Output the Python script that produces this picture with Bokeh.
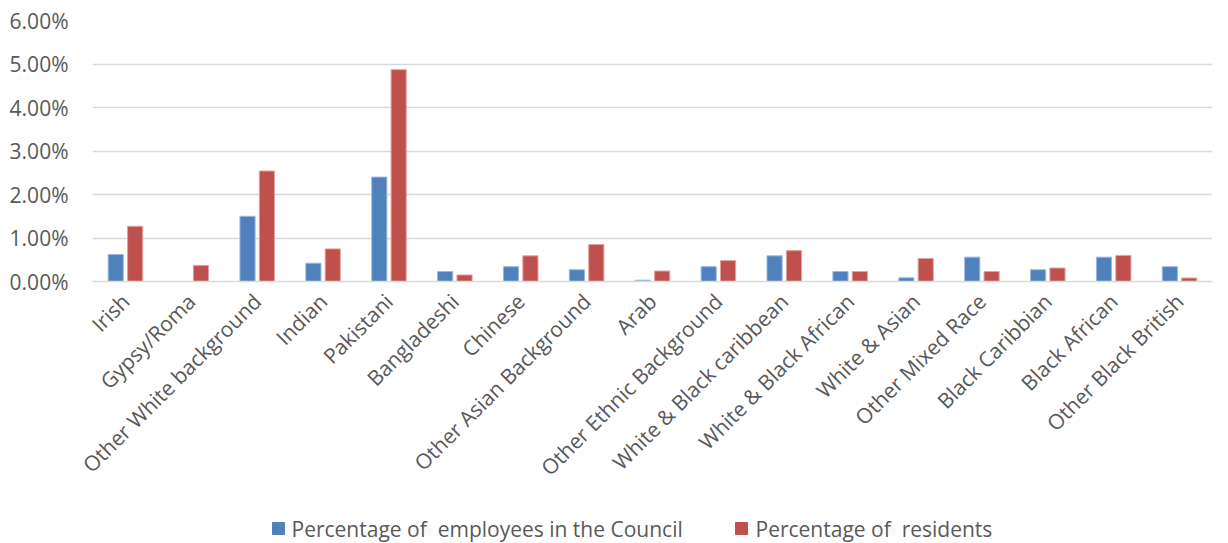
import math
from bokeh.plotting import figure
from bokeh.layouts import column
from bokeh.core.properties import value
from bokeh.models import ColumnDataSource, FixedTicker, NumeralTickFormatter
from bokeh.transform import dodge
from bokeh.embed import file_html
from bokeh.resources import INLINE

categories = ["Irish", "Gypsy/Roma", "Other White background", "Indian", "Pakistani",
              "Bangladeshi", "Chinese", "Other Asian Background", "Arab",
              "Other Ethnic Background", "White & Black caribbean", "White & Black African",
              "White & Asian", "Other Mixed Race", "Black Caribbian", "Black African",
              "Other Black British"]
employees = [0.62, 0.0, 1.50, 0.42, 2.40, 0.23, 0.34, 0.27, 0.03, 0.34, 0.59, 0.23,
             0.085, 0.56, 0.27, 0.56, 0.34]
residents = [1.27, 0.37, 2.54, 0.75, 4.87, 0.15, 0.59, 0.85, 0.24, 0.48, 0.71, 0.23,
             0.53, 0.23, 0.31, 0.60, 0.08]
y_ticks = [0, 0.01, 0.02, 0.03, 0.04, 0.05, 0.06]
series_names = ["Percentage of\u00a0 employees in the Council", "Percentage of\u00a0 residents"]

src = ColumnDataSource(dict(cat=categories,
                            emp=[v / 100 for v in employees],
                            res=[v / 100 for v in residents]))

FONT = "Open Sans"
TXT = "#595959"
BLUE = "#4F81BD"
RED = "#C0504D"

p = figure(x_range=categories, y_range=(0, 0.06), width=1228, height=500,
           output_backend="svg", toolbar_location=None,
           min_border_left=92, min_border_right=16, min_border_top=20, min_border_bottom=219)
p.outline_line_color = None
p.background_fill_color = "white"
p.border_fill_color = "white"

p.vbar(x=dodge("cat", -0.147, range=p.x_range), top="emp", width=0.23, source=src,
       fill_color=BLUE, line_color="#9DB8DC", line_width=1)
p.vbar(x=dodge("cat", 0.147, range=p.x_range), top="res", width=0.23, source=src,
       fill_color=RED, line_color="#E0A3A1", line_width=1)

p.xgrid.grid_line_color = None
p.ygrid.grid_line_color = "#D9D9D9"
p.ygrid.grid_line_width = 1.5
p.yaxis.ticker = FixedTicker(ticks=y_ticks)
p.yaxis.formatter = NumeralTickFormatter(format="0.00%")
p.yaxis.axis_line_color = None
p.yaxis.major_tick_line_color = None
p.yaxis.minor_tick_line_color = None
p.yaxis.major_label_standoff = 18
p.yaxis.major_label_text_font = FONT
p.yaxis.major_label_text_font_size = "21px"
p.yaxis.major_label_text_color = TXT

p.xaxis.axis_line_color = "#D9D9D9"
p.xaxis.axis_line_width = 1.5
p.xaxis.major_tick_line_color = None
p.xaxis.minor_tick_line_color = None
p.xaxis.major_label_orientation = math.pi / 4
p.xaxis.major_label_standoff = 10
p.xaxis.major_label_text_font = FONT
p.xaxis.major_label_text_font_size = "21px"
p.xaxis.major_label_text_color = TXT

# legend strip below the chart; frame aligned with main frame so 1 unit = 1 page pixel
lg = figure(width=1228, height=43, output_backend="svg", toolbar_location=None,
            x_range=(92, 1212), y_range=(0, 43),
            min_border_left=92, min_border_right=16, min_border_top=0, min_border_bottom=0,
            x_axis_location=None, y_axis_location=None)
lg.outline_line_color = None
lg.grid.visible = False
lg.border_fill_color = "white"
lg.background_fill_color = "white"
lsrc = ColumnDataSource(dict(sx=[278, 741], tx=[291, 755], y=[15, 15],
                             color=[BLUE, RED], label=series_names))
lg.rect(x="sx", y="y", width=12, height=12, source=lsrc, fill_color="color", line_color="color")
lg.text(x="tx", y="y", text="label", source=lsrc, text_baseline="middle", text_align="left",
        text_font=value(FONT), text_font_size="21px", text_color=TXT)

layout = column(p, lg, spacing=0)
open("out.html", "w").write(file_html(layout, INLINE))
